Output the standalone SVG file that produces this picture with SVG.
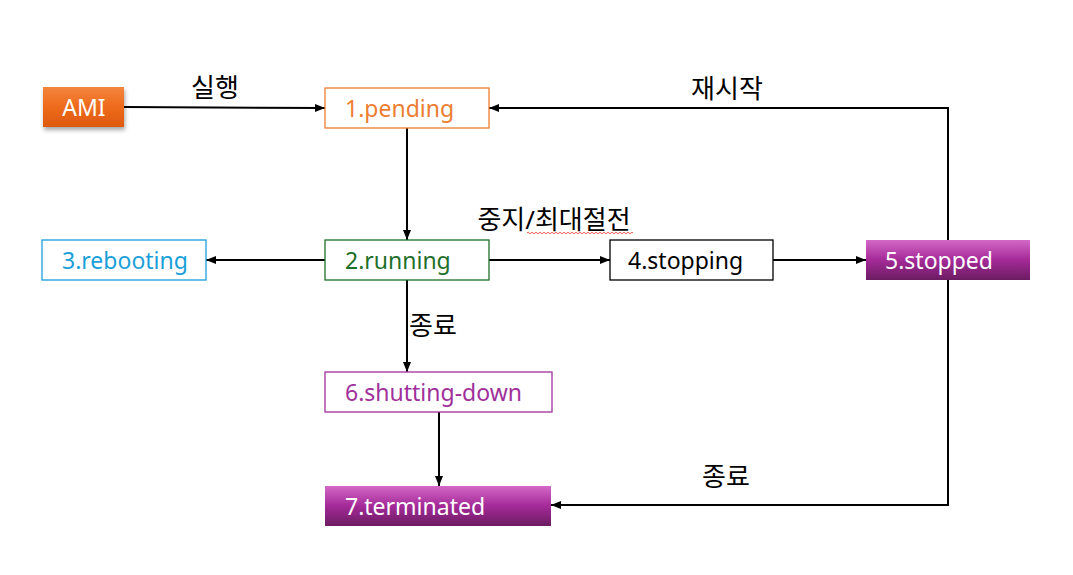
<svg xmlns="http://www.w3.org/2000/svg" width="1073" height="575" viewBox="0 0 1073 575">
<defs>
<linearGradient id="gOrange" x1="0" y1="0" x2="0" y2="1">
<stop offset="0" stop-color="#f4853d"/>
<stop offset="0.5" stop-color="#ee6a1c"/>
<stop offset="1" stop-color="#dd5a0e"/>
</linearGradient>
<linearGradient id="gPurple" x1="0" y1="0" x2="0" y2="1">
<stop offset="0" stop-color="#d468c6"/>
<stop offset="0.5" stop-color="#a42a98"/>
<stop offset="1" stop-color="#6c1c62"/>
</linearGradient>
<filter id="shadow" x="-20%" y="-20%" width="150%" height="160%">
<feDropShadow dx="1" dy="3" stdDeviation="2" flood-color="#000" flood-opacity="0.35"/>
</filter>
<marker id="arr" viewBox="0 0 10 10" refX="10" refY="5" markerWidth="10" markerHeight="10" markerUnits="userSpaceOnUse" orient="auto">
<path d="M0,1 L10,5 L0,9 Z" fill="#000"/>
</marker>
</defs>
<style>
text{font-family:"Malgun Gothic","Noto Sans","Noto Sans CJK KR",sans-serif;font-size:23px;dominant-baseline:central;}
.box{fill:#fff;stroke-width:1.3;}
.c{fill:none;stroke:#000;stroke-width:2;marker-end:url(#arr);}
.lbl{fill:#000;text-anchor:middle;font-size:26px;}
</style>
<rect width="1073" height="575" fill="#fff"/>
<g id="connectors">
<path class="c" d="M124,107 L325,108"/>
<path class="c" d="M407,128 L407,240"/>
<path class="c" d="M325,260 L206,260"/>
<path class="c" d="M489,260 L610,260"/>
<path class="c" d="M773,260 L866,260"/>
<path class="c" d="M948,240 L948,108 L489,108"/>
<path class="c" d="M948,280 L948,505 L551,505"/>
<path class="c" d="M407,280 L407,372"/>
<path class="c" d="M439,412 L439,486"/>
</g>
<g id="labels">
<text class="lbl" x="215" y="87">실행</text>
<text class="lbl" x="727" y="88">재시작</text>
<text class="lbl" x="554" y="219">중지/최대절전</text>
<path d="M527,233 q1,-1.5 2,0 t2,0 t2,0 t2,0 t2,0 t2,0 t2,0 t2,0 t2,0 t2,0 t2,0 t2,0 t2,0 t2,0 t2,0 t2,0 t2,0 t2,0 t2,0 t2,0 t2,0 t2,0 t2,0 t2,0 t2,0 t2,0 t2,0 t2,0 t2,0 t2,0 t2,0 t2,0 t2,0 t2,0 t2,0 t2,0 t2,0 t2,0 t2,0 t2,0 t2,0 t2,0 t2,0 t2,0 t2,0 t2,0 t2,0 t2,0 t2,0 t2,0 t2,0 t2,0 t2,0" fill="none" stroke="#e03030" stroke-width="0.8"/>
<text class="lbl" x="433" y="325">종료</text>
<text class="lbl" x="726" y="476">종료</text>
</g>
<g id="AMI">
<rect x="43" y="87" width="81" height="40" fill="url(#gOrange)" filter="url(#shadow)"/>
<text x="84" y="107" text-anchor="middle" fill="#fff">AMI</text>
</g>
<g id="pending">
<rect class="box" x="325" y="88" width="164" height="40" stroke="#ed7d31"/>
<text x="345" y="108" fill="#ed7d31">1.pending</text>
</g>
<g id="running">
<rect class="box" x="325" y="240" width="164" height="40" stroke="#1e6f2a"/>
<text x="345" y="260" fill="#1e6f2a">2.running</text>
</g>
<g id="rebooting">
<rect class="box" x="42" y="240" width="164" height="40" stroke="#1a9fda"/>
<text x="62" y="260" fill="#1a9fda">3.rebooting</text>
</g>
<g id="stopping">
<rect class="box" x="610" y="240" width="163" height="40" stroke="#000"/>
<text x="628" y="260" fill="#000">4.stopping</text>
</g>
<g id="stopped">
<rect x="866" y="240" width="164" height="40" fill="url(#gPurple)"/>
<text x="885" y="260" fill="#fff">5.stopped</text>
</g>
<g id="shutting-down">
<rect class="box" x="325" y="372" width="227" height="40" stroke="#a0309a"/>
<text x="345" y="392" fill="#a0309a">6.shutting-down</text>
</g>
<g id="terminated">
<rect x="325" y="486" width="226" height="40" fill="url(#gPurple)"/>
<text x="345" y="506" fill="#fff">7.terminated</text>
</g>
</svg>
